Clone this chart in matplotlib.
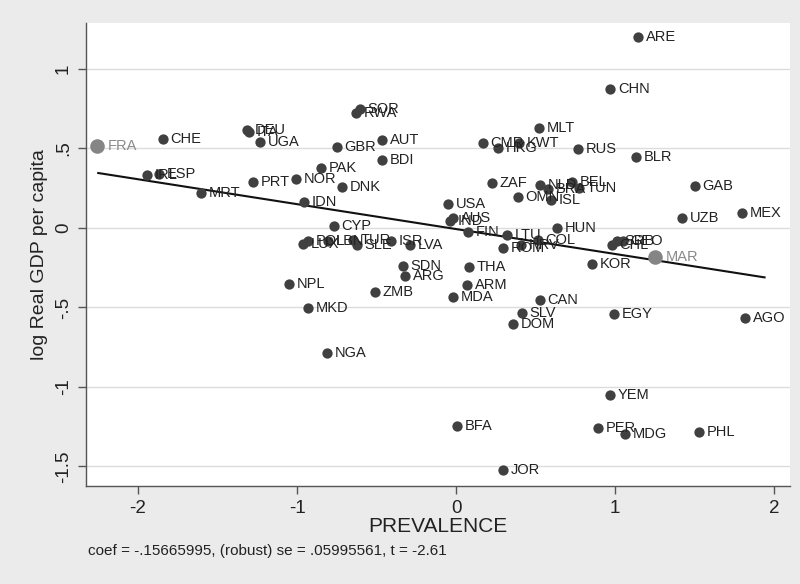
import matplotlib
matplotlib.use("Agg")
import matplotlib.pyplot as plt
import numpy as np

plt.rcParams['font.family'] = ['Liberation Sans', 'DejaVu Sans']

# ---- data ----
countries = ["ARE","CHN","CHE","DEU","ITA","UGA","IRL","ESP","MRT","PRT","NOR","IDN",
             "GBR","AUT","BDI","PAK","DNK","SOR","RWA","CMR","HKG","KWT","MLT","RUS",
             "BLR","GAB","UZB","MEX","HUN","ZAF","NLD","BRA","BEL","TUN","ISL","OMN",
             "USA","IND","AUS","FIN","LTU","ROM","HRV","COL","CHL","SRB","GEO","KOR",
             "CAN","EGY","AGO","SLV","DOM","CYP","LUX","POL","LBN","TUR","SLE","ISR",
             "LVA","SDN","ARG","THA","ARM","MDA","NPL","ZMB","MKD","NGA","BFA","YEM",
             "PER","MDG","PHL","JOR"]
prevalence = [1.145, 0.969, -1.843, -1.314, -1.302, -1.233, -1.943, -1.868, -1.604, -1.277, -1.006, -0.956,
              -0.748, -0.465, -0.465, -0.849, -0.717, -0.604, -0.629, 0.170, 0.264, 0.396, 0.522, 0.767,
              1.132, 1.503, 1.421, 1.799, 0.635, 0.226, 0.528, 0.579, 0.730, 0.774, 0.597, 0.390,
              -0.050, -0.038, -0.019, 0.075, 0.321, 0.296, 0.409, 0.516, 0.981, 1.013, 1.050, 0.855,
              0.528, 0.994, 1.818, 0.415, 0.358, -0.767, -0.962, -0.931, -0.805, -0.648, -0.623, -0.409,
              -0.289, -0.333, -0.321, 0.082, 0.069, -0.019, -1.050, -0.509, -0.931, -0.811, 0.006, 0.969,
              0.893, 1.063, 1.528, 0.296]
log_gdp = [1.201, 0.874, 0.560, 0.616, 0.604, 0.541, 0.333, 0.340, 0.220, 0.289, 0.308, 0.164,
           0.509, 0.553, 0.428, 0.377, 0.258, 0.748, 0.723, 0.535, 0.503, 0.535, 0.629, 0.497,
           0.447, 0.264, 0.063, 0.094, 0.000, 0.283, 0.270, 0.245, 0.289, 0.252, 0.176, 0.195,
           0.151, 0.044, 0.063, -0.025, -0.044, -0.126, -0.107, -0.075, -0.107, -0.082, -0.082, -0.226,
           -0.453, -0.541, -0.566, -0.535, -0.604, 0.013, -0.101, -0.082, -0.082, -0.075, -0.107, -0.082,
           -0.107, -0.239, -0.302, -0.245, -0.358, -0.434, -0.352, -0.403, -0.503, -0.786, -1.245, -1.050,
           -1.258, -1.296, -1.283, -1.522]

# highlighted (influential) observations
hl_countries = ["FRA", "MAR"]
hl_prevalence = [-2.258, 1.252]
hl_log_gdp = [0.516, -0.182]

# fitted line
coef = -0.15665995
intercept = -0.007
fit_range = [-2.25, 1.94]

xticks = [-2, -1, 0, 1, 2]
xticklabels = ["-2", "-1", "0", "1", "2"]
yticks = [1, 0.5, 0, -0.5, -1, -1.5]
yticklabels = ["1", ".5", "0", "-.5", "-1", "-1.5"]
note = "coef = -.15665995, (robust) se = .05995561, t = -2.61"

# ---- figure ----
fig = plt.figure(figsize=(8, 5.84), dpi=100, facecolor="#ebebeb")
ax = fig.add_axes([86/800, 1-486/584, (790-86)/800, (486-23)/584])
ax.set_facecolor("white")
ax.set_xlim(-2.327, 2.10)
ax.set_ylim(-1.623, 1.289)

for yt in yticks:
    ax.axhline(yt, color="#dcdcdc", lw=1.0, zorder=0)

fx = np.array(fit_range)
ax.plot(fx, intercept + coef*fx, color="#111111", lw=1.5, zorder=2)

ax.scatter(prevalence, log_gdp, s=55, color="#404040", zorder=3, linewidths=0)
ax.scatter(hl_prevalence, hl_log_gdp, s=110, color="#858585", zorder=3, linewidths=0)

for c, x, y in zip(countries, prevalence, log_gdp):
    ax.annotate(c, (x, y), xytext=(5.5, 0), textcoords="offset points",
                va="center", ha="left", fontsize=10.5, color="#222222", zorder=4)
for c, x, y in zip(hl_countries, hl_prevalence, hl_log_gdp):
    ax.annotate(c, (x, y), xytext=(7.5, 0), textcoords="offset points",
                va="center", ha="left", fontsize=10.5, color="#8a8a8a", zorder=4)

for s in ["top", "right"]:
    ax.spines[s].set_visible(False)
for s in ["left", "bottom"]:
    ax.spines[s].set_color("#555555")
    ax.spines[s].set_linewidth(1.0)

ax.set_xticks(xticks)
ax.set_xticklabels(xticklabels, fontsize=13.5)
ax.set_yticks(yticks)
ax.set_yticklabels(yticklabels, fontsize=13.5, rotation=90, va="center")
ax.tick_params(axis="both", direction="out", length=6, width=1, color="#555555",
               labelcolor="#222222", pad=4)

ax.set_xlabel("PREVALENCE", fontsize=15, color="#222222", labelpad=0)
ax.set_ylabel("log Real GDP per capita", fontsize=14, color="#222222", labelpad=5)

fig.text(88/800, 1-551/584, note, fontsize=11, color="#222222", va="center", ha="left")

fig.savefig("out.png", dpi=100, facecolor=fig.get_facecolor())
